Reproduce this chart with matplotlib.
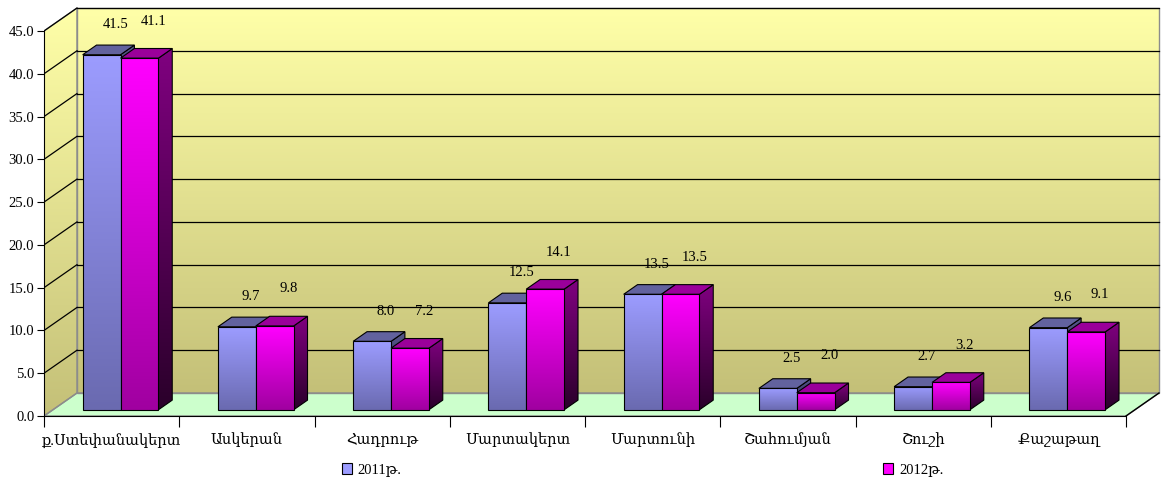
import numpy as np
import matplotlib
matplotlib.use('Agg')
import matplotlib.pyplot as plt
from matplotlib.patches import Polygon, Patch
from matplotlib.colors import to_rgb

# data
categories = ['ք.Ստեփանակերտ', 'Ասկերան', 'Հադրութ', 'Մարտակերտ',
              'Մարտունի', 'Շահումյան', 'Շուշի', 'Քաշաթաղ']
v2011 = [41.5, 9.7, 8.0, 12.5, 13.5, 2.5, 2.7, 9.6]
v2012 = [41.1, 9.8, 7.2, 14.1, 13.5, 2.0, 3.2, 9.1]
series_names = ['2011թ.', '2012թ.']
yticks = np.arange(0, 50, 5)

plt.rcParams['font.family'] = ['Liberation Serif', 'DejaVu Serif']

W, H = 1162, 483
x0px, y0px = 44, 416
px_cat = 135.25
px_unit = 385 / 45
xmax, ymax = 8.26, 47.8

fig = plt.figure(figsize=(W / 100, H / 100), dpi=100)
ax = fig.add_axes([x0px / W, (H - y0px) / H, xmax * px_cat / W, ymax * px_unit / H])

n = len(categories)
ytop = yticks[-1]
dx = 33 / px_cat          # depth offset of the back wall, in data units
dy = 23 / px_unit


def grad(poly, ctop, cbot, z):
    ax.add_patch(poly)
    verts = poly.get_xy()
    x_lo, x_hi = verts[:, 0].min(), verts[:, 0].max()
    y_lo, y_hi = verts[:, 1].min(), verts[:, 1].max()
    t = np.linspace(0, 1, 128)[:, None, None]
    img = (1 - t) * np.array(to_rgb(ctop)) + t * np.array(to_rgb(cbot))
    im = ax.imshow(img, extent=(x_lo, x_hi, y_lo, y_hi), origin='upper',
                   aspect='auto', zorder=z, interpolation='bilinear')
    im.set_clip_path(poly)


# walls and floor
back = Polygon([(dx, dy), (n + dx, dy), (n + dx, ytop + dy), (dx, ytop + dy)],
               closed=True, facecolor='none', edgecolor='#8c8c8c', lw=1, zorder=1.5)
grad(back, '#ffffa8', '#c4c078', 1)
side = Polygon([(0, 0), (dx, dy), (dx, ytop + dy), (0, ytop)],
               closed=True, facecolor='none', edgecolor='#8c8c8c', lw=1, zorder=1.5)
grad(side, '#ffffa8', '#c4c078', 1)
floor = Polygon([(0, 0), (n, 0), (n + dx, dy), (dx, dy)], closed=True,
                facecolor='#ccffcc', edgecolor='#8c8c8c', lw=1, zorder=1.2)
ax.add_patch(floor)
ax.plot([n, n + dx], [0, dy], color='black', lw=1, zorder=1.6)
for v in yticks[1:]:
    ax.plot([dx, n + dx], [v + dy, v + dy], color='black', lw=0.9, zorder=1.6)
    ax.plot([0, dx], [v, v + dy], color='black', lw=0.9, zorder=1.6)

# bars
f = 0.27      # depth position of the bar front
d = 0.42      # bar depth as a fraction of the wall depth
w = 0.28
gap = (1 - 2 * w) / 2
x = np.arange(n)
styles = [
    dict(front=('#9c9cff', '#6a6ab0'), top='#62629e', side=('#55558a', '#25254a')),
    dict(front=('#ff00ff', '#a000a0'), top='#9a009a', side=('#800080', '#2a002a')),
]
vals = [v2011, v2012]
z = 3
for cat in range(n):
    for s in range(2):
        bars = ax.bar(x[cat:cat + 1] + gap + s * w + f * dx, vals[s][cat:cat + 1],
                      width=w, bottom=f * dy, align='edge',
                      facecolor='none', edgecolor='none')
        r = bars.patches[0]
        bx, by, bw, bh = r.get_x(), r.get_y(), r.get_width(), r.get_height()
        sx, sy = d * dx, d * dy
        st = styles[s]
        sd = Polygon([(bx + bw, by), (bx + bw + sx, by + sy),
                      (bx + bw + sx, by + bh + sy), (bx + bw, by + bh)],
                     closed=True, facecolor='none', edgecolor='black', lw=0.8, zorder=z + 0.5)
        grad(sd, st['side'][0], st['side'][1], z)
        tp = Polygon([(bx, by + bh), (bx + bw, by + bh),
                      (bx + bw + sx, by + bh + sy), (bx + sx, by + bh + sy)],
                     closed=True, facecolor=st['top'], edgecolor='black', lw=0.8, zorder=z + 1)
        ax.add_patch(tp)
        fr = Polygon([(bx, by), (bx + bw, by), (bx + bw, by + bh), (bx, by + bh)],
                     closed=True, facecolor='none', edgecolor='black', lw=0.8, zorder=z + 2.5)
        grad(fr, st['front'][0], st['front'][1], z + 2)
        ax.annotate(f'{vals[s][cat]:.1f}', (bx + bw / 2 + sx, by + bh + sy),
                    xytext=(0, 10 + 5 * s), textcoords='offset points',
                    ha='center', va='bottom', fontsize=10.5, zorder=20)
        z += 3

ax.set_xlim(0, xmax)
ax.set_ylim(0, ymax)

for sp in ['top', 'right']:
    ax.spines[sp].set_visible(False)
ax.spines['left'].set_bounds(0, ytop)
ax.spines['bottom'].set_bounds(0, n)
ax.spines['left'].set_zorder(30)
ax.spines['bottom'].set_zorder(30)

ax.set_yticks(yticks)
ax.set_yticklabels([f'{v:.1f}' for v in yticks])
ax.set_xticks(np.arange(n + 1))
ax.set_xticklabels([])
ax.set_xticks(x + 0.5, minor=True)
ax.set_xticklabels(categories, minor=True)
ax.tick_params(axis='y', length=5, direction='out', pad=2, labelsize=10.5)
ax.tick_params(axis='x', which='major', length=8, direction='out')
ax.tick_params(axis='x', which='minor', length=0, pad=12, labelsize=10.5)

handles = [Patch(facecolor=styles[s]['front'][0], edgecolor='black', lw=0.8) for s in range(2)]
fig.legend(handles, series_names, loc='center', bbox_to_anchor=(0.553, 0.027),
           ncol=2, frameon=False, fontsize=10.5, handlelength=0.7, handleheight=0.7,
           handletextpad=0.4, columnspacing=33)

fig.savefig('out.png', dpi=100)
